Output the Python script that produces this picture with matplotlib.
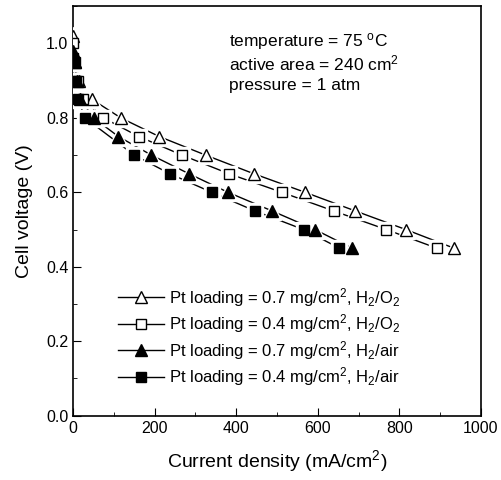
import matplotlib
matplotlib.use("Agg")
import matplotlib.pyplot as plt
from matplotlib.ticker import MultipleLocator

plt.rcParams["font.family"] = ["Liberation Sans", "DejaVu Sans"]
plt.rcParams["mathtext.fontset"] = "custom"
plt.rcParams["mathtext.rm"] = "Liberation Sans"
plt.rcParams["mathtext.it"] = "Liberation Sans:italic"

# Pt 0.7 mg/cm2, H2/O2 (open triangles)
x_07_o2 = [0, 5, 15, 46, 117, 211, 325, 443, 569, 692, 816, 934]
y_07_o2 = [1.02, 0.95, 0.90, 0.85, 0.80, 0.75, 0.70, 0.65, 0.60, 0.55, 0.50, 0.45]

# Pt 0.4 mg/cm2, H2/O2 (open squares)
x_04_o2 = [0, 5, 12, 25, 74, 161, 267, 382, 512, 639, 768, 892]
y_04_o2 = [1.00, 0.95, 0.90, 0.85, 0.80, 0.75, 0.70, 0.65, 0.60, 0.55, 0.50, 0.45]

# Pt 0.7 mg/cm2, H2/air (filled triangles)
x_07_air = [0, 4, 10, 18, 50, 111, 192, 284, 380, 488, 593, 684]
y_07_air = [0.98, 0.95, 0.90, 0.85, 0.80, 0.75, 0.70, 0.65, 0.60, 0.55, 0.50, 0.45]

# Pt 0.4 mg/cm2, H2/air (filled squares)
x_04_air = [0, 3, 8, 12, 29, 150, 237, 340, 446, 565, 653]
y_04_air = [0.96, 0.95, 0.90, 0.85, 0.80, 0.70, 0.65, 0.60, 0.55, 0.50, 0.45]

series = [
    (x_07_o2, y_07_o2, "^", "white", r"Pt loading = 0.7 mg/cm$^2$, H$_2$/O$_2$"),
    (x_04_o2, y_04_o2, "s", "white", r"Pt loading = 0.4 mg/cm$^2$, H$_2$/O$_2$"),
    (x_07_air, y_07_air, "^", "black", r"Pt loading = 0.7 mg/cm$^2$, H$_2$/air"),
    (x_04_air, y_04_air, "s", "black", r"Pt loading = 0.4 mg/cm$^2$, H$_2$/air"),
]

fig = plt.figure(figsize=(5.01, 4.8), dpi=100)
ax = fig.add_axes([0.146, 0.134, 0.814, 0.853])

for xs, ys, m, fc, lab in series:
    ms = 8 if m == "^" else 7
    ax.plot(xs, ys, color="black", lw=1.0, zorder=2)
    # white halo so the line stops short of each marker
    ax.plot(xs, ys, ls="none", marker=m, ms=ms + 5, mfc="white", mec="white", zorder=3)
    ax.plot(xs, ys, color="black", lw=1.0, marker=m, ms=ms, mfc=fc, mec="black",
            mew=1.0, ls="none", zorder=4)
    ax.plot([], [], color="black", lw=1.0, marker=m, ms=ms, mfc=fc, mec="black", label=lab)

ax.set_xlim(0, 1000)
ax.set_ylim(0, 1.1)
ax.xaxis.set_major_locator(MultipleLocator(200))
ax.xaxis.set_minor_locator(MultipleLocator(100))
ax.yaxis.set_minor_locator(MultipleLocator(0.1))
ax.set_yticks([0, 0.2, 0.4, 0.6, 0.8, 1.0])
ax.set_yticklabels(["0.0", "0.2", "0.4", "0.6", "0.8", "1.0"])
ax.tick_params(which="both", direction="in", labelsize=11.5)
ax.tick_params(which="major", length=6)
ax.tick_params(which="minor", length=3)
for s in ax.spines.values():
    s.set_linewidth(1.2)

ax.set_xlabel(r"Current density (mA/cm$^2$)", fontsize=14, labelpad=9)
ax.set_ylabel("Cell voltage (V)", fontsize=14, labelpad=9)

ax.text(382, 1.005, r"temperature = 75 $^{\rm o}$C", fontsize=12.5, va="center")
ax.text(382, 0.945, r"active area = 240 cm$^2$", fontsize=12.5, va="center")
ax.text(382, 0.888, "pressure = 1 atm", fontsize=12.5, va="center")

handles, labels = ax.get_legend_handles_labels()
ax.legend(handles[-4:], labels[-4:], loc="lower left", bbox_to_anchor=(0.072, 0.03),
          frameon=False, fontsize=12, handlelength=2.8, labelspacing=0.22,
          handletextpad=0.3)

fig.savefig("out.png", dpi=100)
